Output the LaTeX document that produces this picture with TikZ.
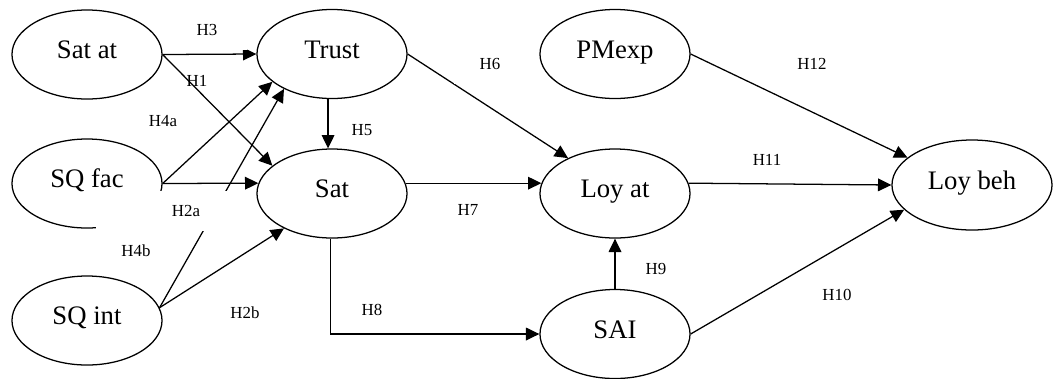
\documentclass[tikz,border=0pt]{standalone}
\usepackage{fontspec}
\setmainfont{Liberation Serif}
\usetikzlibrary{shapes.geometric,arrows.meta}
\begin{document}
\begin{tikzpicture}[x=0.025cm,y=-0.025cm,line width=0.9pt,
  var/.style={draw,ellipse,minimum width=37.5mm,minimum height=22.25mm,inner sep=0pt,font=\fontsize{19}{22}\selectfont,text height=12pt,text depth=6pt},
  hyp/.style={fill=white,inner sep=0pt,minimum width=20mm,minimum height=10mm,font=\fontsize{12}{14}\selectfont},
  arr/.style={-{Triangle[length=9.5pt,width=9pt]}}]
\useasboundingbox (0,0) rectangle (1053,378);
\node[var] (satat) at (87,54.5) {Sat at};
\node[var] (sqfac) at (87,183.5) {SQ fac};
\node[var] (sqint) at (87,320.5) {SQ int};
\node[var] (trust) at (332,54) {Trust};
\node[var] (sat) at (332,193.5) {Sat};
\node[var] (pmexp) at (615,54) {PMexp};
\node[var] (loyat) at (615,193.5) {Loy at};
\node[var] (sai) at (615,334) {SAI};
\node[var,minimum width=40mm,minimum height=22.5mm] (loybeh) at (972,185) {Loy beh};
\draw[arr] (satat.east) -- (trust.west);
\draw[arr] (satat.east) -- (sat.155);
\draw[arr] (sqfac.east) -- (trust.205);
\draw[arr] (sqfac.east) -- (sat.172);
\draw[arr] (sqint.10) -- (trust.216);
\draw[arr] (sqint.10) -- (sat.216);
\draw[arr] (trust.265) -- (sat.95);
\draw[arr] (trust.east) -- (loyat.143);
\draw[arr] (sat.8) -- (loyat.172);
\draw[arr] (sat.268) |- (sai.west);
\draw[arr] (sai.north) -- (loyat.south);
\draw[arr] (loyat.8) -- (loybeh.west);
\draw[arr] (pmexp.east) -- (loybeh.157);
\draw[arr] (sai.east) -- (loybeh.200);
\node[hyp] (h3) at (207,30) {H3};
\node[hyp,fill=none] (h1) at (197,81) {H1};
\node[hyp] (h4a) at (163,121) {H4a};
\node[hyp,minimum height=15.25mm,text height=22pt,text depth=0pt] (h4b) at (136,241.5) {H4b};
\node[hyp,minimum width=23mm] (h2a) at (186,211) {H2a};
\node[hyp] (h2b) at (245,313) {H2b};
\node[hyp,fill=none] (h5) at (362,130) {H5};
\node[hyp,minimum width=18mm] (h6) at (490,64) {H6};
\node[hyp] (h7) at (468,210) {H7};
\node[hyp,minimum width=17mm] (h8) at (372,310) {H8};
\node[hyp,minimum width=17mm] (h9) at (656,269) {H9};
\node[hyp] (h10) at (837,295) {H10};
\node[hyp] (h11) at (767,160) {H11};
\node[hyp] (h12) at (812,64) {H12};
\end{tikzpicture}
\end{document}
